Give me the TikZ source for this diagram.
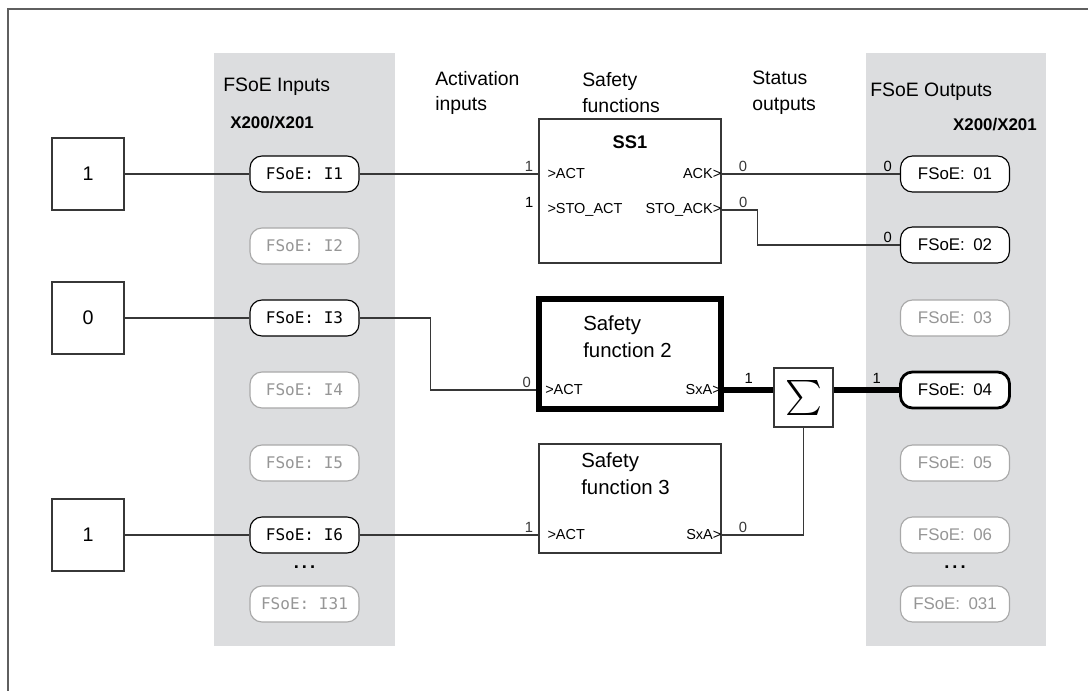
\documentclass[tikz,border=0pt]{standalone}
\usepackage{fontspec}
\usepackage{amsmath}
\setmainfont{Liberation Sans}
\newfontfamily\monofont{DejaVu Sans Mono}
\definecolor{panelgray}{RGB}{220,221,223}
\definecolor{wiregray}{RGB}{55,55,55}
\definecolor{offgray}{RGB}{168,168,168}
\definecolor{offtext}{RGB}{150,150,150}
\definecolor{framegray}{RGB}{95,95,95}
\begin{document}
\begin{tikzpicture}[x=0.025cm, y=-0.025cm,
    wire/.style={wiregray, line width=0.75pt},
    bus/.style={black, line width=4pt},
    pill/.style={draw=black, line width=0.8pt, rounded corners=0.3cm, fill=white, minimum width=2.725cm, minimum height=0.9cm, inner sep=0pt},
    inpill/.style={pill, font=\monofont\fontsize{11.4}{12}\selectfont},
    outpill/.style={pill, font=\fontsize{12}{13}\selectfont},
    offpill/.style={draw=offgray, text=offtext},
    srcbox/.style={draw=wiregray, line width=0.8pt, minimum size=1.8cm, font=\fontsize{14}{16}\selectfont},
    fnbox/.style={draw=wiregray, line width=0.8pt, minimum width=4.55cm},
    port/.style={inner sep=0pt, font=\fontsize{10.3}{12}\selectfont},
    num/.style={inner sep=1.5pt, font=\fontsize{10.5}{12}\selectfont},
    head/.style={align=left, inner sep=0pt, font=\fontsize{13.8}{18.4}\selectfont},
    bold/.style={font=\bfseries\fontsize{12}{14}\selectfont},
    dots/.style={font=\bfseries\fontsize{13}{14}\selectfont},
    fntitle/.style={align=left, inner sep=0pt, font=\fontsize{14.5}{19}\selectfont}]
    \useasboundingbox (0,0) rectangle (1088,691);

    % 1. frame and grey panels
    \draw[framegray, line width=1.4pt] (8,691) -- (8,9) -- (1088,9);
    \fill[panelgray] (214,53) rectangle (395,646);
    \fill[panelgray] (866,53) rectangle (1046,646);

    % 2. headings
    \node[head, anchor=west] (inhead) at (223,87) {FSoE Inputs};
    \node[head, bold, anchor=west] (inport) at (230,123) {X200/X201};
    \node[head, anchor=west] (acthead) at (435,93) {Activation\\inputs};
    \node[head, anchor=west] (sfhead) at (582,93) {Safety\\functions};
    \node[head, anchor=west] (stathead) at (752,93) {Status\\outputs};
    \node[head, anchor=west] (outhead) at (870,92) {FSoE Outputs};
    \node[head, bold, anchor=east] (outport) at (1037,125) {X200/X201};

    % 3. sources and FSoE pills
    \node[srcbox] (src1) at (88,174) {1};
    \node[srcbox] (src3) at (88,318) {0};
    \node[srcbox] (src6) at (88,535) {1};
    \node[inpill] (i1) at (304.5,174) {FSoE: I1};
    \node[inpill] (i3) at (304.5,318) {FSoE: I3};
    \node[inpill] (i6) at (304.5,535) {FSoE: I6};
    \foreach \n/\y in {2/246, 4/390, 5/463, 31/604}
        \node[inpill, offpill] (i\n) at (304.5,\y) {FSoE: I\n};
    \node[dots] (idots) at (304.5,567) {.\,.\,.};
    \node[outpill] (o1) at (955,174) {FSoE:\enspace 01};
    \node[outpill] (o2) at (955,245) {FSoE:\enspace 02};
    \node[outpill, line width=2pt] (o4) at (955,390) {FSoE:\enspace 04};
    \foreach \n/\y in {3/318, 5/463, 6/535, 31/604}
        \node[outpill, offpill] (o\n) at (955,\y) {FSoE:\enspace 0\n};
    \node[dots] (odots) at (955,567) {.\,.\,.};

    % 4. safety function blocks
    \node[fnbox, minimum height=3.6cm] (ss1) at (630,191) {};
    \node[font=\bfseries\fontsize{13}{15}\selectfont] (ss1name) at (630,142) {SS1};
    \node[fnbox, draw=black, line width=4pt, minimum height=2.75cm] (sf2) at (630,354) {};
    \node[fntitle, anchor=west] (sf2name) at (583,336.5) {Safety\\function 2};
    \node[fnbox, minimum height=2.725cm] (sf3) at (630,498.5) {};
    \node[fntitle, anchor=west] (sf3name) at (581,474) {Safety\\function 3};
    \node[draw=wiregray, line width=0.8pt, minimum size=1.475cm, inner sep=0pt, fill=white] (sum) at (803.5,397.5)
        {\fontsize{25}{25}\selectfont$\textstyle\sum$};

    % 5. ports
    \coordinate (ss1act) at (ss1.west |- i1);
    \coordinate (ss1sto) at (ss1.west |- 0,210);
    \coordinate (ss1ack) at (ss1.east |- o1);
    \coordinate (ss1stoack) at (ss1.east |- 0,210);
    \coordinate (sf2act) at (sf2.west |- 0,390);
    \coordinate (sf2sxa) at (sf2.east |- 0,390);
    \coordinate (sf3act) at (sf3.west |- i6);
    \coordinate (sf3sxa) at (sf3.east |- i6);
    \node[port, anchor=west] at ([xshift=0.22cm]ss1act) {>ACT};
    \node[port, anchor=west] at ([xshift=0.22cm]ss1sto) {>STO\_ACT};
    \node[port, anchor=east] at (ss1ack) {ACK>};
    \node[port, anchor=east] at (ss1stoack) {STO\_ACK>};
    \node[port, anchor=west] at ([xshift=0.22cm]sf2act) {>ACT};
    \node[port, anchor=east] at ([xshift=-2pt]sf2sxa) {SxA>};
    \node[port, anchor=west] at ([xshift=0.22cm]sf3act) {>ACT};
    \node[port, anchor=east] at (sf3sxa) {SxA>};

    % 6. wires
    \draw[wire] (src1) -- (i1);
    \draw[wire] (i1) -- (ss1act) node[num, above left, xshift=-2pt] {1};
    \node[num, above left, xshift=-2pt] at (ss1sto) {1};
    \draw[wire] (ss1ack) -- node[num, above, pos=0.12] {0} (o1);
    \node[num, above left, xshift=-4pt] at (o1.west) {0};
    \draw[wire] (ss1stoack) -- ++(36,0) node[num, above, pos=0.6] {0} |- (o2);
    \node[num, above left, xshift=-4pt] at (o2.west) {0};
    \draw[wire] (src3) -- (i3);
    \draw[wire] (i3.east) -- ++(71,0) |- (sf2act) node[num, above left, xshift=-2pt] {0};
    \draw[wire] (src6) -- (i6);
    \draw[wire] (i6) -- (sf3act) node[num, above left, xshift=-2pt] {1};
    \draw[wire] (sf3sxa) -| node[num, above, pos=0.13] {0} (sum);
    \draw[bus] (sf2sxa) -- node[num, above=1pt] {1} (sum.west |- sf2sxa);
    \draw[bus] (sum.east |- o4) -- node[num, above=1pt, pos=0.66] {1} (o4);
\end{tikzpicture}
\end{document}
